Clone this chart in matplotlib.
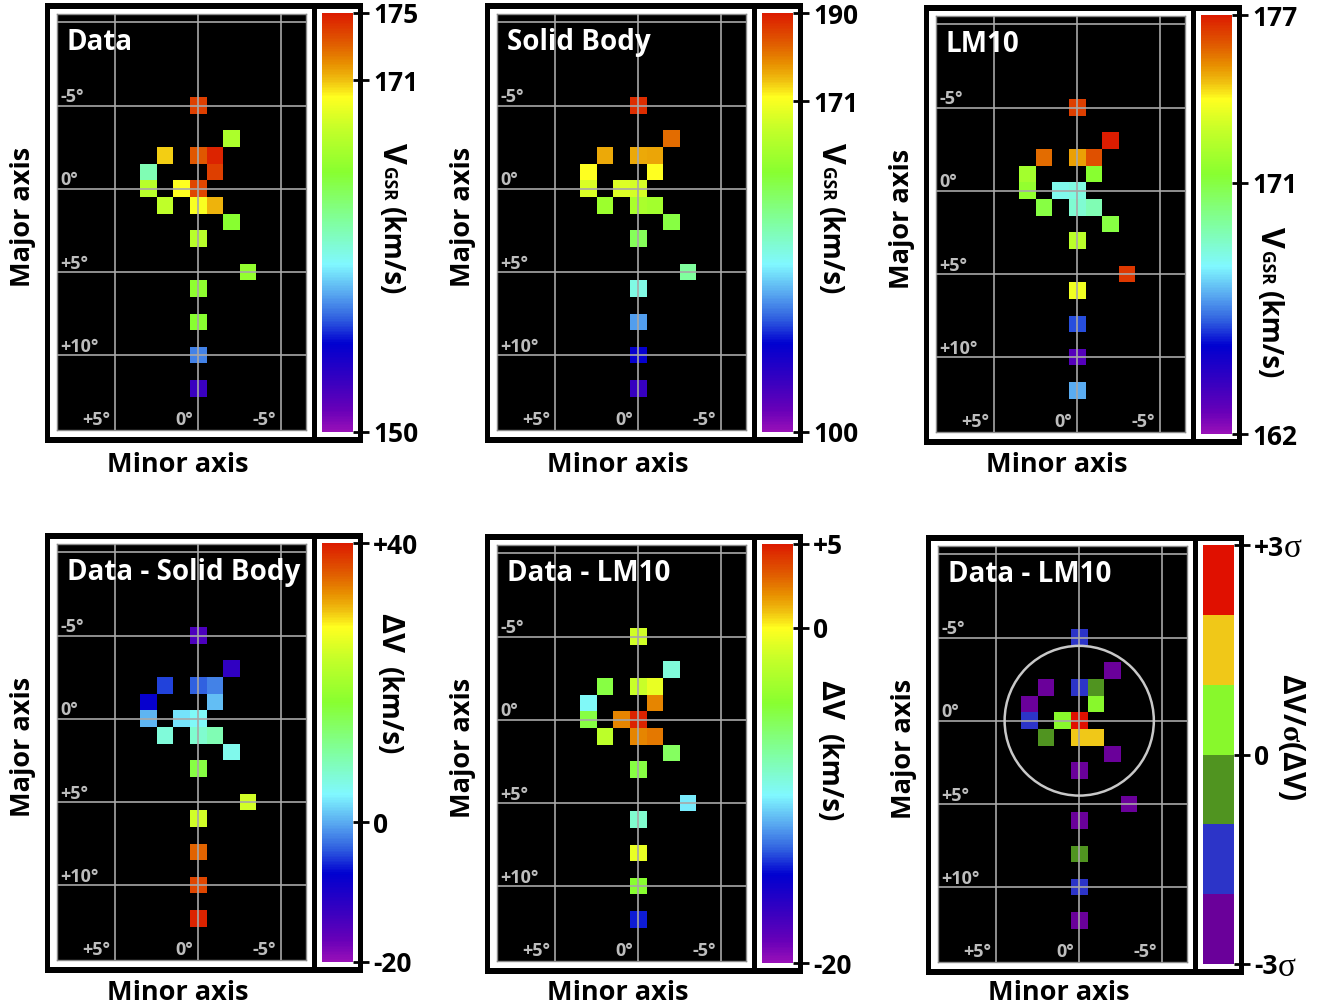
import numpy as np
import matplotlib
matplotlib.use("Agg")
import matplotlib.pyplot as plt
from matplotlib.colors import LinearSegmentedColormap, ListedColormap, Normalize, BoundaryNorm
from matplotlib.cm import ScalarMappable
from matplotlib.patches import Rectangle, Circle

plt.rcParams['font.family'] = ['Open Sans', 'DejaVu Sans']
plt.rcParams['font.weight'] = 'bold'
plt.rcParams['mathtext.fontset'] = 'custom'
plt.rcParams['mathtext.rm'] = 'Liberation Serif'
plt.rcParams['mathtext.bf'] = 'Open Sans:bold'

# ---- field positions (degrees along minor / major axis) ----
minor_deg = [0, -2, 2, 0, -1, 3, -1, 3, 1, 0, 2, 0, -1, -2, 0, -3, 0, 0, 0, 0]
major_deg = [-5, -3, -2, -2, -2, -1, -1, 0, 0, 0, 1, 1, 1, 2, 3, 5, 6, 8, 10, 12]

# ---- mean velocities / residuals per field ----
v_data = [174, 167, 170.8, 173.3, 174.8, 162, 174, 167.5, 170, 173.8,
          167.8, 169.8, 171.2, 165.5, 167.5, 166, 165.8, 165.5, 157.5, 153]
v_solid = [188, 182, 177, 177, 177.5, 172, 172, 167.5, 168, 167,
           159, 161, 160, 154, 152, 145, 138.5, 129, 118, 111]
v_lm10 = [176.4, 177, 175.7, 175, 176.1, 172, 171.3, 171.6, 168.3, 168.5,
          171, 168.7, 169.2, 171, 172.6, 176.5, 173.7, 165.9, 163.2, 167]
dv_solid = [-14.6, -12, -5, -3.8, -2, -8, 1, 0.4, 2.8, 4.6,
            6.4, 7, 8.8, 5.2, 16, 24.4, 24.4, 35.2, 37, 39.4]
dv_lm10 = [-1.5, -9, -5, -1.75, -0.75, -9.75, 2.25, -5, 2.25, 4.75,
           -2.25, 2.2, 2.5, -5.75, -5, -10.25, -8.75, -0.75, -4.5, -14.25]
dv_sigma = [-1.5, -2.5, -2.5, -1.5, -0.5, -2.5, 0.5, -1.5, 0.5, 2.5,
            -0.5, 1.5, 1.5, -2.5, -2.5, -2.5, -2.5, -0.5, -1.5, -2.5]

titles = ["Data", "Solid Body", "LM10", "Data - Solid Body", "Data - LM10", "Data - LM10"]
value_sets = [v_data, v_solid, v_lm10, dv_solid, dv_lm10, dv_sigma]
ranges = [(150, 175), (100, 190), (162, 177), (-20, 40), (-20, 5), (-3, 3)]
cbar_ticks = [[150, 171, 175], [100, 171, 190], [162, 171, 177],
              [-20, 0, 40], [-20, 0, 5], [-3, 0, 3]]
cbar_ticklabels = [["150", "171", "175"], ["100", "171", "190"], ["162", "171", "177"],
                   ["-20", "0", "+40"], ["-20", "0", "+5"], ["-3", "0", "+3"]]
sigma_bins = [-3, -2, -1, 0, 1, 2, 3]
sigma_colors = ['#6a009a', '#2c34c8', '#509420', '#88f82c', '#f0c818', '#e01000']

# rainbow velocity colour scale
vel_cmap = LinearSegmentedColormap.from_list('vel', [
    (0.00, '#9810b8'), (0.05, '#6800b8'), (0.12, '#3800c0'), (0.21, '#0000d0'),
    (0.27, '#3060e0'), (0.33, '#58a8f0'), (0.40, '#80f8ff'), (0.50, '#80ffa0'),
    (0.62, '#88ff30'), (0.73, '#c8ff28'), (0.80, '#ffff20'), (0.84, '#f0c010'),
    (0.88, '#e89000'), (0.93, '#e05a00'), (1.00, '#dc1c00')])

W, H = 1336, 1008
fig = plt.figure(figsize=(W / 100, H / 100), dpi=100)


def px_rect(x0, y0, x1, y1):
    return [x0 / W, 1 - y1 / H, (x1 - x0) / W, (y1 - y0) / H]


bg = fig.add_axes([0, 0, 1, 1], zorder=-1)
bg.set_xlim(0, W)
bg.set_ylim(H, 0)
bg.axis('off')

offsets = [(0, 0), (440, 0), (879, 2), (0, 530), (440, 531), (881, 532)]
minor_label_y = [472, 472, 472, 1000, 1000, 1000]

# colour-bar labels: (baseline x, start y, [(text, size, y offset), ...])
vgsr = [("V", 23, 0), ("GSR", 12.5, 24), ("(km/s)", 20, 64)]
dv_kms = [("ΔV", 22, 0), ("(km/s)", 20, 54)]
cbar_labels = [(383, 143, vgsr), (822, 143, vgsr), (1261, 227, vgsr),
               (381, 613, dv_kms), (821, 680, dv_kms),
               (1283, 673, [("ΔV/$\\mathrm{σ}$(ΔV)", 21.5, 0)])]

x_edges = np.arange(-6.5, 9.5, 1.0)
y_edges = np.arange(-10.5, 15.5, 1.0)
grid_col = '#a8a8a8'
deg_col = '#bdbdbd'

for i in range(6):
    dx, dy = offsets[i]
    # black frame with white inner boxes
    bg.add_patch(Rectangle((45 + dx, 3 + dy), 318, 440, fc='black', ec='none'))
    bg.add_patch(Rectangle((50 + dx, 9 + dy), 262, 428, fc='white', ec='none'))
    bg.add_patch(Rectangle((317 + dx, 9 + dy), 41, 428, fc='white', ec='none'))

    ax = fig.add_axes(px_rect(57.3 + dx, 14 + dy, 306 + dx, 430 + dy))
    ax.set_facecolor('black')
    ax.set_xlim(8.5, -6.5)
    ax.set_ylim(14.5, -10.5)
    ax.set_xticks([])
    ax.set_yticks([])
    for s in ax.spines.values():
        s.set_color('#8a8a8a')
        s.set_linewidth(1.0)

    lo, hi = ranges[i]
    if i == 5:
        cmap = ListedColormap(sigma_colors)
        norm = BoundaryNorm(sigma_bins, cmap.N)
    else:
        cmap = vel_cmap
        norm = Normalize(lo, hi)

    field = np.full((len(y_edges) - 1, len(x_edges) - 1), np.nan)
    for mx, my, val in zip(minor_deg, major_deg, value_sets[i]):
        field[int(my + 10), int(mx + 6)] = val
    ax.pcolormesh(x_edges, y_edges, np.ma.masked_invalid(field),
                  cmap=cmap, norm=norm, zorder=2)

    for v in [-5, 0, 5]:
        ax.axvline(v, color=grid_col, lw=1.2, zorder=3)
    for v in [-10, -5, 0, 5, 10]:
        ax.axhline(v, color=grid_col, lw=1.2, zorder=3)

    if i == 5:
        ax.add_patch(Circle((0, 0), 4.5, fill=False, ec='#c8c8c8', lw=1.8, zorder=4))

    for v, s in zip([-5, 0, 5, 10], ['-5°', '0°', '+5°', '+10°']):
        ax.text(8.33, v - 0.2, s, color=deg_col, fontsize=13, ha='left',
                va='baseline', zorder=5)
    for v, s in zip([5, 0, -5], ['+5°', '0°', '-5°']):
        ax.text(v + 0.3, 14.2, s, color=deg_col, fontsize=13, ha='right',
                va='baseline', zorder=5)

    ax.text(0.038, 0.913, titles[i], transform=ax.transAxes, color='white',
            fontsize=20, ha='left', va='baseline', zorder=6)

    # colour bar
    cax = fig.add_axes(px_rect(322 + dx, 13 + dy, 353 + dx, 432 + dy))
    cb = fig.colorbar(ScalarMappable(norm=norm, cmap=cmap), cax=cax)
    cb.outline.set_visible(False)
    cb.set_ticks(cbar_ticks[i])
    cb.set_ticklabels(cbar_ticklabels[i])
    cax.tick_params(axis='y', which='major', direction='out', length=11.5,
                    width=2, color='black', pad=3, labelsize=19,
                    right=True, left=False)
    cax.minorticks_off()

    if i == 5:
        # serif sigma after the +3 / -3 labels
        for sx, yy in ((1284, 13 + dy), (1278, 432 + dy)):
            bg.text(sx, yy, 'σ', family='Liberation Serif', fontweight='normal',
                    fontsize=24, ha='left', va='center_baseline', color='black')

    bx, by, pieces = cbar_labels[i]
    for txt, fs, off in pieces:
        bg.text(bx, by + off, txt, rotation=270, rotation_mode='anchor',
                ha='left', va='baseline', fontsize=fs, color='black')

    # axis names
    bg.text(23 + dx, 217 + dy, 'Major axis', rotation=90, ha='center',
            va='center', fontsize=19.5, color='black')
    bg.text(178 + dx, minor_label_y[i], 'Minor axis', ha='center',
            va='baseline', fontsize=19.5, color='black')

fig.savefig('out.png', dpi=100)
